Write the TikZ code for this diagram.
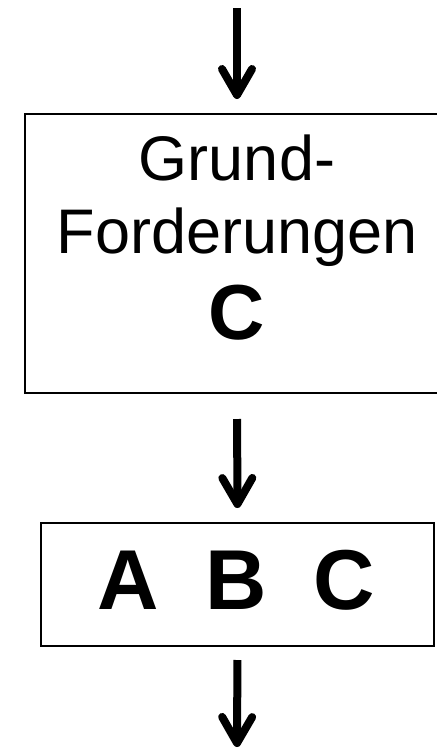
\documentclass[tikz,border=0pt]{standalone}
\usepackage{fontspec}
\setmainfont{Liberation Sans}
\usetikzlibrary{arrows.meta}

\begin{document}
\begin{tikzpicture}[x=1pt,y=-1pt,->,>={Straight Barb[length=26pt,width=30pt,round]},
  line width=8pt,
  box node/.style={draw,line width=2pt,inner sep=0pt},
  label node/.style={inner sep=0pt,anchor=base,font=\fontsize{63}{73}\selectfont},
  big node/.style={inner sep=0pt,anchor=base,font=\fontsize{85}{85}\selectfont\bfseries}]

  \useasboundingbox (0,0) rectangle (437,748);

  \coordinate (top) at (237,8);
  \coordinate (bottom) at (237,747);

  \node[box node,minimum width=424pt,minimum height=279pt] (grund) at (237,253.5) {};
  \node[label node] (grund1) at (237,180) {Grund-};
  \node[label node] (grund2) at (237,253) {Forderungen};
  \node[big node,font=\fontsize{78}{78}\selectfont\bfseries] (grundC) at (237,339) {C};

  \node[box node,minimum width=393pt,minimum height=123pt] (abc) at (237.5,584.5) {};
  \node[big node] (abctxt) at (236,609) {A\hspace{0.55em}B\hspace{0.55em}C};

  \draw[shorten >=14pt] (top) -- (grund.north);
  \draw[shorten <=25pt,shorten >=14pt] (grund.south) -- (abc.north);
  \draw[shorten <=13pt] (abc.south) -- (bottom);

\end{tikzpicture}
\end{document}
